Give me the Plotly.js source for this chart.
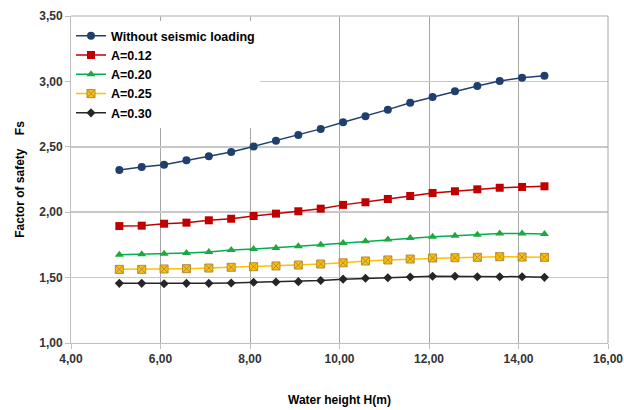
<!DOCTYPE html>
<html>
<head>
<meta charset="utf-8">
<script src="https://cdn.plot.ly/plotly-3.0.1.min.js"></script>
<style>html,body{margin:0;padding:0;background:#fff;}#chart{width:624px;height:410px;}</style>
</head>
<body>
<div id="chart"></div>
<script>
const waterHeight = [5.08, 5.58, 6.08, 6.58, 7.08, 7.58, 8.08, 8.58, 9.08, 9.58, 10.08, 10.58, 11.08, 11.58, 12.08, 12.58, 13.08, 13.58, 14.08, 14.58];
const withoutSeismic = [2.323, 2.346, 2.363, 2.397, 2.427, 2.460, 2.503, 2.546, 2.590, 2.637, 2.687, 2.733, 2.784, 2.837, 2.881, 2.924, 2.965, 3.003, 3.028, 3.044];
const a012 = [1.894, 1.897, 1.912, 1.920, 1.938, 1.950, 1.971, 1.989, 2.007, 2.027, 2.056, 2.076, 2.101, 2.124, 2.147, 2.160, 2.175, 2.187, 2.193, 2.198];
const a020 = [1.675, 1.678, 1.683, 1.688, 1.695, 1.711, 1.718, 1.726, 1.739, 1.752, 1.764, 1.777, 1.792, 1.802, 1.812, 1.820, 1.828, 1.838, 1.838, 1.833];
const a025 = [1.563, 1.563, 1.566, 1.568, 1.573, 1.579, 1.583, 1.589, 1.596, 1.604, 1.613, 1.627, 1.635, 1.642, 1.650, 1.652, 1.655, 1.660, 1.657, 1.655];
const a030 = [1.456, 1.456, 1.453, 1.456, 1.456, 1.459, 1.464, 1.466, 1.469, 1.478, 1.488, 1.495, 1.499, 1.505, 1.510, 1.510, 1.507, 1.507, 1.507, 1.502];
const seriesNames = ["Without seismic loading", "A=0.12", "A=0.20", "A=0.25", "A=0.30"];
const xTickVals = [4, 6, 8, 10, 12, 14, 16];
const yTickVals = [1.0, 1.5, 2.0, 2.5, 3.0, 3.5];

const styles = [
  {line: '#1F3F6E', marker: {symbol: 'circle', size: 8, color: '#1F3F6E', line: {color: '#1F3F6E', width: 0}}},
  {line: '#C00000', marker: {symbol: 'square', size: 8, color: '#C00000', line: {color: '#C00000', width: 0}}},
  {line: '#00B050', marker: {symbol: 'triangle-up', size: 8, color: '#1FA83F', line: {color: '#1FA83F', width: 0}}},
  {line: '#FFC000', marker: {symbol: 'square-x', size: 8, color: '#FFC000', line: {color: '#B08A40', width: 1}}},
  {line: '#262626', marker: {symbol: 'diamond', size: 7, color: '#262626', line: {color: '#262626', width: 0}}}
];
const ys = [withoutSeismic, a012, a020, a025, a030];
const data = ys.map((y, i) => ({
  x: waterHeight, y: y, name: seriesNames[i], type: 'scatter', mode: 'lines+markers',
  line: {color: styles[i].line, width: 1.5},
  marker: styles[i].marker
}));

const font = {family: 'Liberation Sans, Arial, sans-serif', size: 12, color: '#333'};
const layout = {
  width: 624, height: 410,
  margin: {l: 71, r: 16, t: 16, b: 67},
  paper_bgcolor: '#fff', plot_bgcolor: '#fff',
  separators: ',.',
  font: font,
  showlegend: true,
  legend: {
    x: 0.0, y: 0.984, xanchor: 'left', yanchor: 'top',
    bgcolor: 'rgba(255,255,255,1)', borderwidth: 0,
    font: {family: font.family, size: 12.5, color: '#000', weight: 'bold'},
    itemwidth: 30, tracegroupgap: 0
  },
  xaxis: {
    range: [4, 16], tickvals: xTickVals, tickformat: '.2f',
    showgrid: true, gridcolor: '#A6A6A6', gridwidth: 1,
    showline: true, linecolor: '#BFBFBF', linewidth: 1, mirror: false,
    ticks: 'outside', ticklen: 5, tickcolor: '#BFBFBF',
    zeroline: false,
    tickfont: {family: font.family, size: 12, color: '#333', weight: 'bold'},
    title: {text: 'Water height H(m)', font: {family: font.family, size: 12, color: '#000', weight: 'bold'}, standoff: 30}
  },
  yaxis: {
    range: [1, 3.5], tickvals: yTickVals, tickformat: '.2f',
    showgrid: true, gridcolor: '#C8C8C8', gridwidth: 1.5,
    showline: true, linecolor: '#BFBFBF', linewidth: 1,
    ticks: 'outside', ticklen: 5, tickcolor: '#BFBFBF',
    zeroline: false,
    tickfont: {family: font.family, size: 12, color: '#333', weight: 'bold'},
    title: {text: 'Factor of safety    Fs', font: {family: font.family, size: 12, color: '#000', weight: 'bold'}, standoff: 12}
  },
  shapes: [
    {type: 'line', xref: 'paper', yref: 'paper', x0: 0, x1: 1, y0: 1, y1: 1, line: {color: '#C8C8C8', width: 1.5}},
    {type: 'line', xref: 'paper', yref: 'paper', x0: 1, x1: 1, y0: 0, y1: 1, line: {color: '#A6A6A6', width: 1}}
  ]
};
Plotly.newPlot('chart', data, layout, {displayModeBar: false, staticPlot: true});
</script>
</body>
</html>
